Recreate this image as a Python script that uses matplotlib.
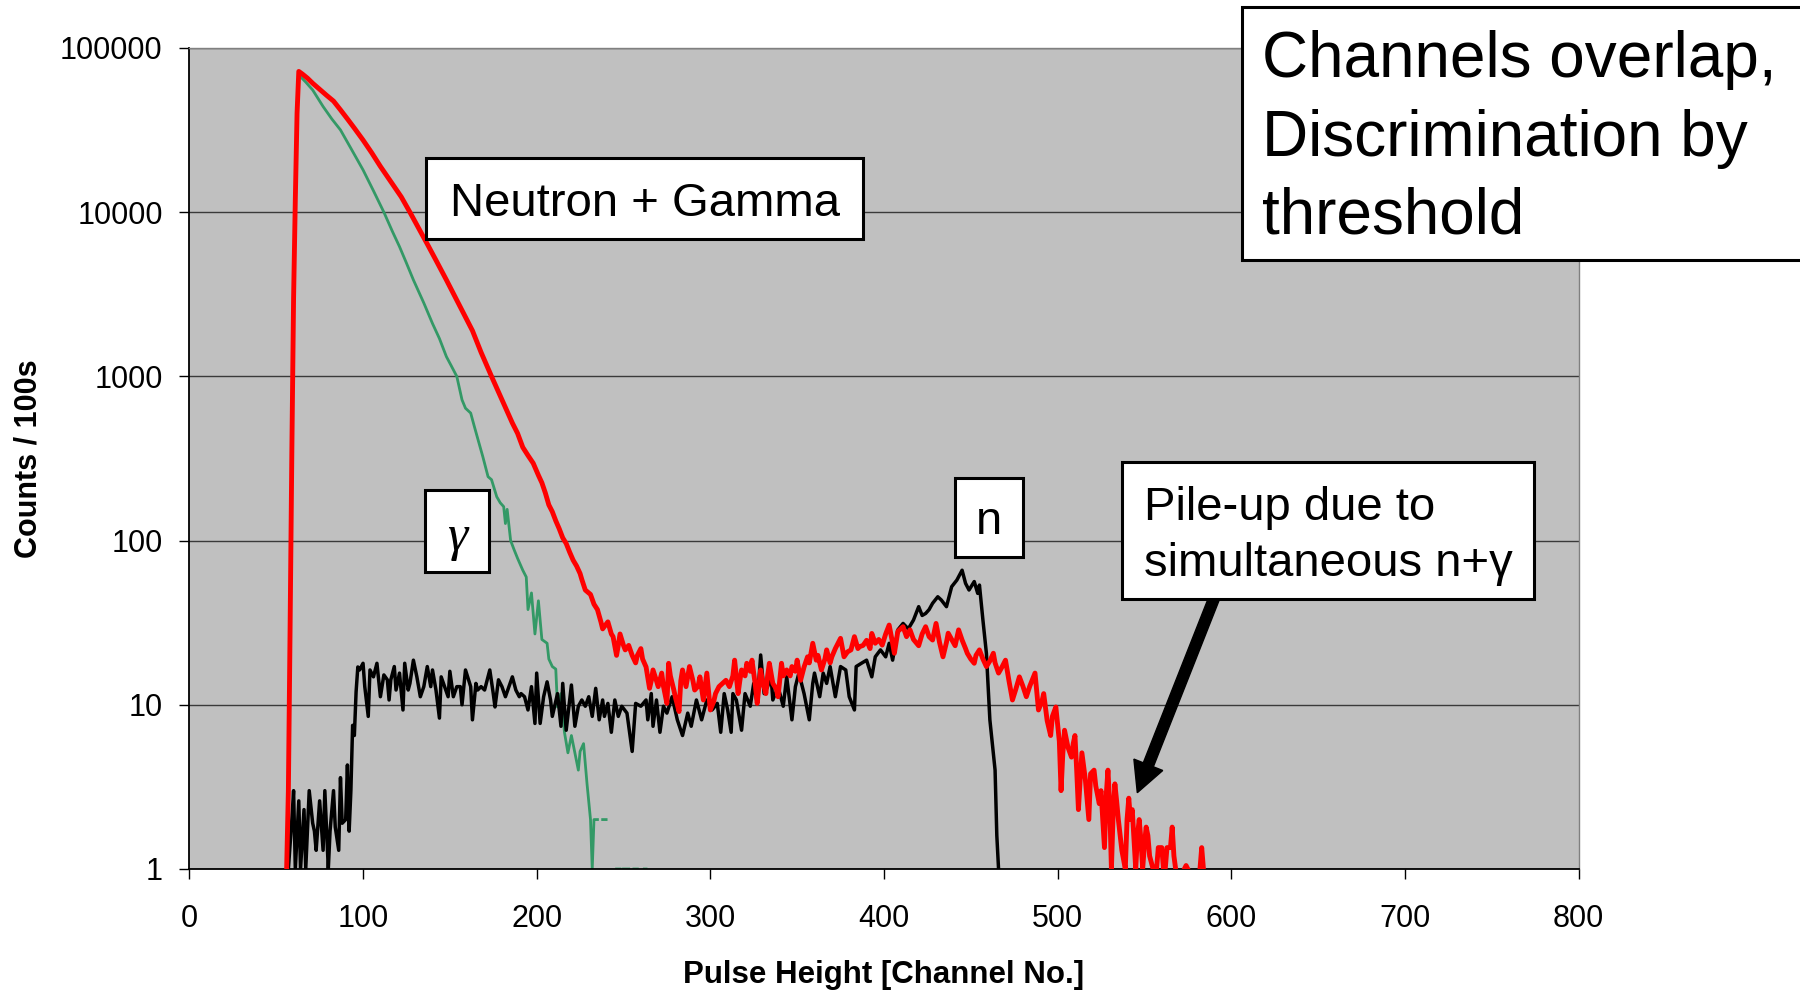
import numpy as np
import matplotlib
matplotlib.use("Agg")
import matplotlib.pyplot as plt
from matplotlib.patches import Rectangle, FancyArrow
from matplotlib.ticker import NullLocator

plt.rcParams["font.family"] = ["Liberation Sans", "DejaVu Sans"]

# ---------------- DATA (channel, counts per 100 s); nan = zero counts ----------------
red_pts = [
    (56, 1), (57, 3), (58, 30), (59, 350), (60, 3000), (61, 12000), (62, 40000), (63, 72000),
    (65, 69500), (68, 65500), (71, 61000), (75, 56000), (79, 51500), (83, 47500), (87, 42000),
    (91, 37000), (95, 32500), (100, 27500), (105, 23000), (110, 19000), (114, 16500), (118, 14300),
    (122, 12400), (127, 10000), (132, 8000), (137, 6400), (142, 5100), (148, 3870), (153, 3050),
    (158, 2400), (163, 1900), (168, 1400), (174, 1000), (180, 720), (186, 520), (189, 450),
    (192, 370), (195, 330), (198, 296), (201, 250), (203, 225), (205, 195), (207, 165), (209, 150),
    (211, 132), (213, 118), (215, 104), (217, 96), (219, 85), (221, 76), (223, 70), (225, 63),
    (226, 58), (228, 50), (230, 48), (231, 47), (233, 41), (235, 38), (237, 32), (238, 29),
    (240, 31), (241, 32), (243, 27), (244, 26), (246, 20), (247, 23), (248, 27), (250, 23),
    (251, 21.6), (253, 23), (255, 20), (257, 18), (258, 20), (260, 22), (261, 19), (263, 17),
    (265, 12.6), (266, 14), (267, 16.3), (269, 14), (270, 12.9), (272, 15.6), (273, 13),
    (275, 10.2), (276, 17.9), (277, 15), (279, 12.3), (280, 11), (282, 9.1), (283, 14),
    (284, 16.3), (286, 12.9), (288, 17.1), (290, 14), (291, 12.3), (293, 13), (294, 14.8),
    (296, 10.7), (298, 15.6), (299, 12), (300, 9.3), (302, 10.5), (303, 11.7), (305, 12.9),
    (307, 13.5), (309, 14.1), (311, 12.9), (313, 15), (314, 18.7), (316, 11.7), (317, 14),
    (318, 16.3), (320, 15), (321, 17.9), (323, 16), (324, 18.7), (326, 13), (327, 10.2),
    (329, 16.3), (330, 14), (332, 11.7), (333, 15), (334, 17.9), (336, 13.5), (338, 12.5),
    (339, 11.2), (341, 17.9), (342, 15), (344, 16.3), (346, 15), (347, 17.1), (349, 16),
    (350, 18.7), (352, 14.1), (354, 17), (356, 19.6), (357, 18), (359, 23.7), (361, 18.7),
    (362, 20), (364, 16.3), (366, 19), (367, 21.6), (369, 18), (370, 19.6), (372, 22),
    (375, 25.4), (377, 19.6), (379, 21), (381, 21.6), (383, 26), (385, 22), (386, 22.6),
    (388, 23), (390, 24.7), (392, 22), (393, 27.2), (395, 23.7), (397, 25), (399, 23.1),
    (401, 27), (403, 30.6), (405, 23.7), (406, 20.6), (408, 28), (411, 29.9), (413, 26),
    (415, 28.6), (417, 25), (420, 22.9), (422, 27), (424, 29.9), (426, 26), (428, 24.8),
    (430, 31.3), (432, 24), (434, 19.6), (436, 24), (437, 27.3), (439, 25), (441, 22.9),
    (443, 28.6), (445, 24.8), (447, 22), (448, 20.6), (450, 19), (452, 17.9), (453, 20),
    (455, 21.6), (457, 19), (459, 17.1), (461, 18.5), (463, 20.6), (464, 18), (466, 15.6),
    (468, 17), (470, 18.7), (472, 14), (474, 10.7), (476, 12.5), (478, 14.8), (480, 13),
    (482, 11.2), (484, 13), (487, 15.6), (489, 9.3), (491, 10.5), (492, 11.7), (494, 8),
    (496, 6.5), (497, 8.5), (499, 9.7), (501, 6), (502, 3.0), (503, 5), (504, 7.0), (506, 5.5),
    (508, 4.8), (509, 5.8), (510, 6.5), (511, 4), (512, 2.3), (513, 3.5), (514, 5.1),
    (516, 3.5), (518, 2.0), (519, 3.8), (521, 4.0), (522, 3.2), (524, 2.5), (525, 3.0),
    (527, 1.35), (528, 2.8), (529, 4.0), (530, 2.5), (531, 1), (532, 2.2), (533, 3.3),
    (534, 2.6), (535, 2.0), (537, 1.3), (539, 1), (540, 2.0), (541, 2.7), (542, 2.0),
    (543, 2.3), (544, 1.5), (545, 1), (546, 1.6), (547, 2.0), (548, 1.5), (549, 1), (550, 1.4),
    (551, 1.8), (552, 1.6), (553, 1.2), (555, 1), (557, 1), (558, 1.35), (559, 1.35),
    (560, 1.35), (561, 1), (562, 1), (563, 1.35), (565, 1.35), (566, 1.8), (567, 1.2),
    (568, 1), (569, np.nan), (573, 1), (574, 1.05), (575, 1), (576, np.nan), (582, 1),
    (583, 1.35), (584, 1),
]

gamma_pts = [
    (62, 40000), (63, 68500), (67, 62000), (71, 55500), (77, 44000), (82, 37000), (87, 31700),
    (93, 24500), (100, 18100), (106, 13500), (112, 10000), (117, 7600), (121, 6170), (125, 4900),
    (129, 3870), (135, 2800), (140, 2100), (144, 1700), (148, 1320), (151, 1150), (154, 1000),
    (157, 720), (159, 640), (162, 598), (164, 500), (166, 420), (169, 324), (172, 245),
    (174, 235), (177, 185), (179, 170), (181, 161), (182, 127), (183, 155), (185, 100),
    (187, 88), (189, 78), (192, 66), (194, 60), (195, 38), (197, 48), (199, 27), (201, 43),
    (203, 25), (206, 23.7), (207, 19), (209, 17.1), (211, 16.5), (212, 9.7), (214, 11.7),
    (216, 6.8), (218, 5.1), (220, 6.5), (222, 5.1), (224, 4.0), (225, 5.2), (227, 5.8),
    (229, 3.3), (231, 2.0), (232, 1), (233, 2), (234, 2), (235, 2), (236, np.nan),
    (238, 2), (239, 2), (240, 2), (241, np.nan), (246, 1), (247, 1), (248, 1), (249, np.nan),
    (250, 1), (251, 1), (252, 1), (253, 1), (254, np.nan), (256, 1), (257, 1), (258, 1),
    (259, np.nan), (262, 1), (263, 1),
]

neutron_pts = [
    (57, 1), (59, 2.0), (60, 3.0), (61, 1), (63, 2.6), (64, 1), (66, 2.3), (67, 1), (69, 3.0),
    (71, 1.9), (72, 1.7), (73, 1.3), (75, 2.6), (77, 1.3), (78, 3.0), (80, 1), (81, 1.7),
    (83, 3.0), (84, 1.8), (86, 1.3), (87, 3.6), (88, 1.9), (90, 2.0), (91, 4.3), (92, 1.7),
    (93, 3.0), (94, 7.5), (95, 6.5), (96, 12), (97, 17), (98, 16.3), (100, 17.9), (101, 12.9),
    (103, 8.5), (104, 16.3), (106, 14.8), (108, 17.9), (110, 11.2), (112, 15.2), (114, 14.2),
    (115, 10.7), (116, 14.2), (118, 17.1), (119, 12.3), (121, 15.6), (123, 9.3), (124, 17.9),
    (126, 12.3), (127, 13.5), (129, 18.7), (131, 14.8), (133, 11.2), (135, 12.9), (137, 17.1),
    (139, 12.9), (140, 16.3), (142, 12.3), (144, 8.3), (145, 14.8), (147, 12.9), (149, 11.2),
    (150, 16), (152, 11.2), (154, 12.9), (156, 12.9), (157, 10), (159, 16.3), (162, 12.9),
    (163, 8.1), (165, 13.5), (166, 12.3), (168, 12.9), (170, 12.3), (173, 16.3), (175, 11.7),
    (176, 9.7), (178, 14.2), (180, 12.9), (182, 11.2), (184, 12.9), (186, 14.8), (188, 12.3),
    (190, 11.2), (191, 11.7), (193, 11.2), (195, 9.3), (197, 12.9), (199, 7.7), (200, 15.6),
    (202, 7.7), (204, 11.2), (206, 13.8), (208, 10.7), (209, 8.5), (212, 11.7), (214, 7.4),
    (215, 13.5), (217, 7.0), (220, 13.2), (222, 7.4), (224, 9.8), (226, 10.7), (228, 9.8),
    (230, 11.2), (232, 8.5), (234, 12.6), (236, 8.1), (238, 10.7), (239, 8.5), (241, 10.2),
    (243, 6.8), (245, 10.7), (247, 8.5), (249, 9.8), (252, 8.9), (255, 5.2), (257, 10.2),
    (260, 9.8), (263, 10.7), (264, 8.1), (266, 11.7), (267, 7.4), (269, 10.7), (271, 6.8),
    (273, 9.8), (275, 8.9), (278, 11.2), (281, 8.1), (284, 6.5), (287, 8.9), (289, 7.4),
    (292, 10.7), (295, 8.1), (298, 10.7), (301, 9.3), (304, 10.2), (306, 6.8), (308, 11.7),
    (310, 9.3), (312, 6.8), (313, 11.7), (315, 10.7), (318, 7.0), (320, 11.7), (323, 9.8),
    (325, 13.5), (327, 10.2), (329, 20.1), (331, 11.7), (333, 12.9), (335, 14.8), (336, 10.7),
    (339, 12.9), (342, 9.8), (344, 14.8), (347, 8.1), (349, 12.9), (351, 15.6), (354, 11.7),
    (357, 8.1), (359, 13.5), (360, 15.6), (363, 11.2), (365, 15.6), (367, 13.5), (369, 17.1),
    (372, 11.2), (375, 17.1), (378, 16.3), (380, 11.2), (383, 9.3), (384, 17.1), (387, 17.9),
    (390, 18.7), (393, 14.8), (395, 19.6), (398, 21.6), (401, 19.6), (403, 23.7), (405, 18.7),
    (408, 28.6), (411, 31.3), (414, 29), (417, 32.8), (420, 39.6), (422, 35), (424, 36),
    (426, 38), (428, 41.5), (431, 45.5), (433, 43.5), (436, 39.6), (439, 52.4), (442, 57.5),
    (445, 66), (447, 54.9), (449, 50), (452, 56.3), (454, 47.7), (455, 53.6), (457, 32.8),
    (459, 20.6), (461, 8.1), (464, 4.0), (465, 1.6), (466, 1),
]

x_ticks = [0, 100, 200, 300, 400, 500, 600, 700, 800]
y_ticks = [1, 10, 100, 1000, 10000, 100000]
y_tick_labels = ["1", "10", "100", "1000", "10000", "100000"]

# ---------------- FIGURE ----------------
W, H = 1800, 990
fig = plt.figure(figsize=(W / 100, H / 100), dpi=100)


def fx(px):
    return px / W


def fy(py):
    return 1 - py / H


ax = fig.add_axes([fx(189.4), fy(869), fx(1578.5) - fx(189.4), fy(48) - fy(869)])
ax.set_facecolor("#C0C0C0")

for pts, color, lw, z in [(gamma_pts, "#339966", 2.0, 2),
                          (neutron_pts, "black", 2.5, 3),
                          (red_pts, "#FF0000", 3.5, 4)]:
    ch, cnt = zip(*pts)
    ax.plot(ch, cnt, color=color, lw=lw, zorder=z)

ax.set_yscale("log")
ax.set_xlim(0, 800)
ax.set_ylim(1, 100000)
ax.set_xticks(x_ticks)
ax.set_xticklabels([str(t) for t in x_ticks])
ax.set_yticks(y_ticks)
ax.set_yticklabels(y_tick_labels)
ax.yaxis.set_minor_locator(NullLocator())
ax.grid(axis="y", color="#3a3a3a", lw=1.0)
ax.set_axisbelow(True)

ax.tick_params(axis="both", direction="out", length=7.2, width=1.0, labelsize=22)
ax.tick_params(axis="x", pad=18)
ax.tick_params(axis="y", pad=12)

for side in ["top", "right"]:
    ax.spines[side].set_color("#808080")
    ax.spines[side].set_linewidth(1.0)
for side in ["left", "bottom"]:
    ax.spines[side].set_color("black")
    ax.spines[side].set_linewidth(1.3)

fig.text(fx(29), fy(459), "Counts / 100s", rotation=90, ha="center", va="center",
         fontsize=22, fontweight="bold")
fig.text(fx(884), fy(975), "Pulse Height [Channel No.]", ha="center", va="center",
         fontsize=22.5, fontweight="bold")


# ---------------- ANNOTATIONS ----------------
def box(x0, y0, x1, y1):
    fig.add_artist(Rectangle((fx(x0), fy(y1)), fx(x1) - fx(x0), fy(y0) - fy(y1),
                             transform=fig.transFigure, facecolor="white",
                             edgecolor="black", lw=2.2, zorder=5))


# arrow pointing at the pile-up tail
fig.add_artist(FancyArrow(12.15, (H - 596) / 100, 11.373 - 12.15, (H - 792.7) / 100 - (H - 596) / 100,
                          width=0.108, head_width=0.31, head_length=0.30,
                          length_includes_head=True, color="black",
                          transform=fig.dpi_scale_trans, zorder=4))

box(426, 158, 863, 239)
fig.text(fx(644.5), fy(215.7), "Neutron + Gamma", ha="center", va="baseline", fontsize=34, zorder=6)

box(425, 490, 489, 572)
fig.text(fx(457), fy(550), "γ", ha="center", va="baseline", fontsize=37,
         family="Liberation Serif", style="italic", zorder=6)

box(955, 478, 1023, 557)
fig.text(fx(989), fy(533.5), "n", ha="center", va="baseline", fontsize=34, zorder=6)

box(1121.5, 461.5, 1534, 598.5)
fig.text(fx(1143.5), fy(520.5), "Pile-up due to", ha="left", va="baseline", fontsize=34, zorder=6)
fig.text(fx(1143.5), fy(575.5), "simultaneous n+γ", ha="left", va="baseline", fontsize=34, zorder=6)

box(1241.5, 7, 1812, 260)
for line, base in [("Channels overlap,", 77.5), ("Discrimination by", 155.5), ("threshold", 233.5)]:
    fig.text(fx(1262), fy(base), line, ha="left", va="baseline", fontsize=46, zorder=6)

fig.savefig("out.png", dpi=100)
